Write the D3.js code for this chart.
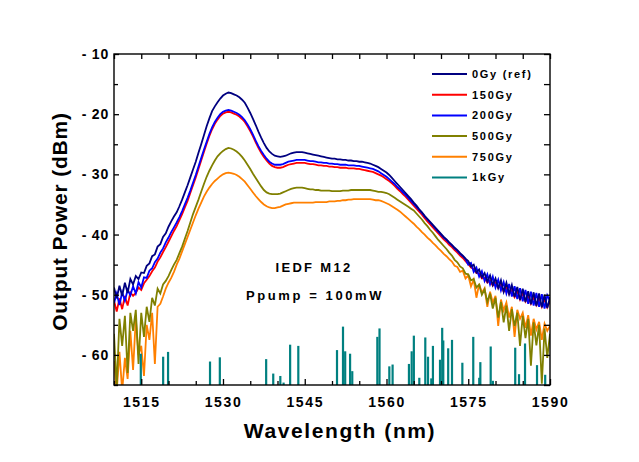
<!DOCTYPE html>
<html>
<head>
<meta charset="utf-8">
<script src="https://cdn.jsdelivr.net/npm/d3@7/dist/d3.min.js"></script>
<style>
  body { margin: 0; background: #fff; }
  svg text { font-family: 'Liberation Sans', Arial, sans-serif; font-weight: bold; fill: #000; }
</style>
</head>
<body>
<svg id="chart" width="639" height="462"></svg>
<script>
'use strict';

// spectra sampled every 0.5 nm from 1510 nm, output power in dBm
var wlStart = 1510;
var wlStep = 0.5;

var gy0 = [
  -48.8, -50.6, -48.5, -50.2, -48.0, -49.7, -47.4, -48.3, -46.9, -47.4,
  -46.3, -46.4, -45.2, -44.8, -43.6, -43.3, -42.0, -41.6, -40.4, -39.8,
  -38.7, -37.8, -37.0, -36.3, -35.3, -34.2, -33.0, -31.8, -30.5, -29.2,
  -27.9, -26.4, -25.0, -23.5, -22.0, -20.7, -19.5, -18.7, -18.0, -17.4,
  -16.9, -16.6, -16.4, -16.5, -16.7, -16.9, -17.2, -17.6, -18.1, -18.9,
  -19.8, -20.8, -21.8, -22.9, -23.9, -24.8, -25.6, -26.2, -26.6, -26.9,
  -27.0, -27.1, -27.0, -26.9, -26.7, -26.5, -26.4, -26.3, -26.3, -26.3,
  -26.4, -26.5, -26.6, -26.7, -26.8, -26.9, -27.0, -27.1, -27.2, -27.3,
  -27.4, -27.4, -27.5, -27.5, -27.6, -27.6, -27.7, -27.7, -27.8, -27.8,
  -27.9, -27.9, -28.0, -28.1, -28.2, -28.4, -28.6, -28.8, -29.1, -29.4,
  -29.7, -30.1, -30.6, -31.1, -31.6, -32.1, -32.6, -33.1, -33.6, -34.1,
  -34.7, -35.2, -35.8, -36.3, -36.9, -37.4, -37.9, -38.4, -38.9, -39.4,
  -39.9, -40.4, -40.8, -41.3, -41.7, -42.2, -42.6, -43.1, -43.5, -44.0,
  -44.4, -45.3, -45.0, -46.3, -45.8, -47.1, -46.4, -47.8, -46.8, -48.4,
  -47.3, -48.9, -47.6, -49.5, -48.0, -49.9, -48.4, -50.4, -48.7, -50.9,
  -49.0, -51.2, -49.4, -51.6, -49.6, -51.9, -49.8, -52.1, -50.0, -52.2,
  -50.4
];

var gy150 = [
  -51.0, -52.8, -50.6, -52.4, -50.2, -51.8, -49.6, -50.2, -49.7, -48.8,
  -49.2, -48.1, -47.5, -46.9, -46.1, -45.5, -44.5, -43.8, -42.9, -42.1,
  -41.2, -40.3, -39.4, -38.6, -37.6, -36.6, -35.5, -34.4, -33.1, -31.8,
  -30.5, -29.1, -27.7, -26.3, -24.9, -23.6, -22.5, -21.6, -20.9, -20.3,
  -19.9, -19.7, -19.6, -19.7, -19.9, -20.1, -20.4, -20.8, -21.3, -22.0,
  -22.8, -23.7, -24.7, -25.6, -26.4, -27.1, -27.7, -28.2, -28.6, -28.8,
  -28.9, -28.9, -28.8, -28.6, -28.4, -28.3, -28.2, -28.1, -28.1, -28.1,
  -28.1, -28.2, -28.3, -28.3, -28.4, -28.5, -28.5, -28.6, -28.6, -28.7,
  -28.7, -28.8, -28.8, -28.9, -28.9, -28.9, -29.0, -29.0, -29.0, -29.1,
  -29.1, -29.2, -29.3, -29.4, -29.5, -29.6, -29.8, -30.0, -30.2, -30.5,
  -30.8, -31.1, -31.5, -31.9, -32.4, -32.8, -33.3, -33.7, -34.2, -34.7,
  -35.2, -35.7, -36.2, -36.7, -37.3, -37.8, -38.3, -38.8, -39.3, -39.8,
  -40.3, -40.8, -41.2, -41.7, -42.1, -42.6, -43.0, -43.5, -43.9, -44.4,
  -44.9, -45.5, -45.7, -46.4, -46.5, -47.3, -47.2, -48.0, -47.6, -48.5,
  -48.0, -48.9, -48.3, -49.5, -48.8, -49.9, -49.2, -50.4, -49.5, -50.8,
  -49.8, -51.1, -50.2, -51.5, -50.4, -51.7, -50.6, -52.0, -50.7, -52.1,
  -51.1
];

var gy200 = [
  -51.4, -49.8, -51.7, -49.6, -51.0, -49.2, -50.1, -48.6, -49.8, -47.9,
  -48.8, -47.1, -47.2, -46.0, -45.6, -44.6, -44.0, -43.0, -42.3, -41.3,
  -40.5, -39.6, -38.8, -38.0, -37.1, -36.1, -35.0, -33.9, -32.7, -31.4,
  -30.1, -28.7, -27.3, -25.9, -24.6, -23.3, -22.2, -21.3, -20.6, -20.0,
  -19.6, -19.4, -19.3, -19.4, -19.6, -19.8, -20.1, -20.5, -21.0, -21.7,
  -22.5, -23.4, -24.4, -25.3, -26.1, -26.8, -27.4, -27.9, -28.2, -28.4,
  -28.4, -28.4, -28.3, -28.1, -27.9, -27.8, -27.7, -27.6, -27.6, -27.6,
  -27.6, -27.7, -27.8, -27.8, -27.9, -28.0, -28.0, -28.1, -28.1, -28.2,
  -28.2, -28.3, -28.3, -28.4, -28.4, -28.4, -28.5, -28.5, -28.5, -28.6,
  -28.6, -28.7, -28.8, -28.9, -29.0, -29.1, -29.3, -29.5, -29.8, -30.1,
  -30.4, -30.8, -31.2, -31.6, -32.1, -32.5, -33.0, -33.4, -33.9, -34.4,
  -34.9, -35.4, -35.9, -36.4, -37.0, -37.5, -38.0, -38.5, -39.0, -39.5,
  -40.0, -40.5, -40.9, -41.4, -41.8, -42.3, -42.7, -43.2, -43.6, -44.1,
  -45.0, -44.7, -46.2, -45.5, -47.0, -46.1, -47.7, -46.6, -48.3, -47.0,
  -48.8, -47.5, -49.3, -47.9, -49.8, -48.2, -50.3, -48.6, -50.7, -48.9,
  -51.1, -49.2, -51.5, -49.5, -51.8, -49.7, -52.0, -49.9, -52.3, -50.1,
  -51.0
];

var gy500 = [
  -56.5, -65.5, -54.0, -58.5, -53.5, -63.0, -53.0, -56.0, -52.5, -61.5,
  -53.0, -57.0, -52.0, -54.5, -50.5, -51.8, -49.0, -49.8, -48.3, -47.7,
  -46.9, -45.9, -45.0, -44.2, -43.1, -42.0, -40.7, -39.4, -38.0, -36.6,
  -35.4, -34.2, -32.9, -31.6, -30.4, -29.4, -28.5, -27.7, -27.0, -26.5,
  -26.1, -25.8, -25.6, -25.7, -25.9, -26.2, -26.6, -27.1, -27.7, -28.4,
  -29.1, -29.9, -30.6, -31.3, -32.0, -32.6, -33.0, -33.2, -33.3, -33.3,
  -33.3, -33.2, -33.0, -32.8, -32.6, -32.4, -32.3, -32.2, -32.2, -32.2,
  -32.3, -32.4, -32.5, -32.5, -32.6, -32.6, -32.7, -32.7, -32.7, -32.7,
  -32.8, -32.8, -32.8, -32.8, -32.7, -32.7, -32.7, -32.6, -32.6, -32.6,
  -32.6, -32.6, -32.6, -32.6, -32.6, -32.7, -32.8, -32.9, -32.9, -33.0,
  -33.1, -33.3, -33.6, -33.9, -34.2, -34.5, -34.8, -35.1, -35.4, -35.7,
  -36.0, -36.5, -37.0, -37.5, -38.1, -38.6, -39.2, -39.7, -40.3, -40.9,
  -41.4, -41.9, -42.4, -43.0, -43.5, -44.2, -44.6, -45.3, -45.6, -46.5,
  -46.6, -47.6, -47.4, -48.8, -48.3, -50.0, -49.1, -51.2, -49.8, -52.3,
  -50.5, -53.8, -51.2, -54.6, -51.8, -56.0, -52.4, -55.2, -53.0, -58.5,
  -53.5, -57.2, -54.0, -61.8, -54.6, -58.4, -55.0, -64.8, -55.6, -60.5,
  -56.5
];

var gy750 = [
  -61.0, -66.0, -59.5, -66.0, -60.5, -64.0, -56.0, -62.5, -54.0, -60.0,
  -58.5, -63.5, -55.0, -57.5, -53.0, -61.5, -52.0, -51.5, -50.3, -49.0,
  -48.0, -47.2, -46.2, -45.0, -44.0, -42.8, -41.6, -40.4, -39.2, -38.0,
  -36.8, -35.7, -34.7, -33.7, -32.9, -32.2, -31.6, -31.1, -30.7, -30.3,
  -30.0, -29.8, -29.7, -29.8, -29.9, -30.1, -30.4, -30.8, -31.2, -31.8,
  -32.4, -33.0, -33.6, -34.1, -34.6, -35.0, -35.3, -35.5, -35.6, -35.6,
  -35.5, -35.4, -35.2, -35.0, -34.9, -34.8, -34.7, -34.7, -34.7, -34.7,
  -34.7, -34.7, -34.7, -34.7, -34.6, -34.6, -34.6, -34.6, -34.6, -34.5,
  -34.5, -34.5, -34.4, -34.4, -34.3, -34.3, -34.2, -34.2, -34.1, -34.1,
  -34.1, -34.1, -34.1, -34.1, -34.1, -34.2, -34.3, -34.3, -34.4, -34.6,
  -34.8, -35.0, -35.3, -35.6, -35.9, -36.2, -36.6, -37.0, -37.4, -37.8,
  -38.2, -38.7, -39.1, -39.6, -40.0, -40.5, -40.9, -41.4, -41.8, -42.3,
  -42.7, -43.2, -43.6, -44.1, -44.5, -45.2, -45.4, -46.2, -46.0, -47.3,
  -46.8, -48.6, -47.5, -50.5, -48.2, -49.7, -48.9, -52.0, -49.5, -51.3,
  -50.2, -55.2, -50.8, -52.6, -51.3, -53.8, -52.0, -57.0, -52.5, -54.0,
  -53.0, -55.5, -53.4, -56.8, -54.0, -55.8, -54.5, -57.5, -54.8, -56.0,
  -55.2
];

// 1 kGy trace sits below the axis floor, only its spikes show
var gy1kWl = [1514.9, 1519.0, 1519.9, 1527.6, 1529.4, 1537.9, 1539.2, 1540.5, 1541.1, 1542.3,
  1543.8, 1550.9, 1552.0, 1552.4, 1553.3, 1553.7, 1558.3, 1558.7, 1560.5, 1561.1,
  1564.1, 1564.6, 1565.0, 1566.0, 1567.1, 1567.6, 1568.2, 1568.5, 1569.8, 1570.2,
  1570.4, 1571.3, 1572.0, 1573.9, 1575.9, 1577.0, 1577.2, 1579.1, 1579.5, 1583.6,
  1584.3, 1585.4, 1587.6, 1589.1];
var gy1kTop = [-59.8, -60.3, -59.5, -61.1, -60.4, -60.7, -63.1, -63.5, -64.6, -58.3,
  -58.5, -59.2, -55.3, -59.4, -59.8, -62.7, -57.0, -55.6, -61.9, -61.6,
  -61.5, -59.4, -56.8, -63.8, -57.1, -60.3, -63.9, -58.5, -60.8, -55.5,
  -57.6, -58.9, -57.5, -61.3, -57.0, -63.8, -61.2, -58.6, -64.3, -58.8,
  -63.2, -58.1, -61.7, -63.3];

var seriesNames = ['0Gy (ref)', '150Gy', '200Gy', '500Gy', '750Gy', '1kGy'];
var seriesColors = ['#000080', '#ff0000', '#0000ff', '#808000', '#ff8000', '#008080'];

var xMajorTicks = [1515, 1530, 1545, 1560, 1575, 1590];
var xMinorTicks = [1510, 1520, 1525, 1535, 1540, 1550, 1555, 1565, 1570, 1580, 1585];
var yMajorTicks = [-10, -20, -30, -40, -50, -60];
var yMinorTicks = [-15, -25, -35, -45, -55, -65];

// plot frame
var margins = { top: 54, right: 89, bottom: 77, left: 114 };
var width = 639;
var height = 462;
var chartW = width - margins.left - margins.right;
var chartH = height - margins.top - margins.bottom;

var svg = d3.select('#chart');
var x = d3.scaleLinear().domain([1510, 1590]).range([0, chartW]);
var y = d3.scaleLinear().domain([-65, -10]).range([chartH, 0]);

var plot = svg.append('g')
  .attr('transform', 'translate(' + margins.left + ',' + margins.top + ')');

plot.append('clipPath').attr('id', 'clip')
  .append('rect').attr('width', chartW).attr('height', chartH);

// spectra, drawn back to front
var traces = [
  { values: gy750, color: seriesColors[4] },
  { values: gy500, color: seriesColors[3] },
  { values: gy150, color: seriesColors[1] },
  { values: gy200, color: seriesColors[2] },
  { values: gy0, color: seriesColors[0] }
];

var line = d3.line()
  .x(function (d, i) { return x(wlStart + i * wlStep); })
  .y(function (d) { return y(d); });

var curves = plot.append('g').attr('clip-path', 'url(#clip)');
curves.selectAll('path.trace').data(traces).enter().append('path')
  .attr('class', 'trace')
  .attr('d', function (d) { return line(d.values); })
  .attr('fill', 'none')
  .attr('stroke', function (d) { return d.color; })
  .attr('stroke-width', 1.8)
  .attr('stroke-linejoin', 'miter');

// 1 kGy spikes
curves.selectAll('rect.spike').data(gy1kWl).enter().append('rect')
  .attr('class', 'spike')
  .attr('x', function (d) { return x(d) - 1; })
  .attr('width', 2.2)
  .attr('y', function (d, i) { return y(gy1kTop[i]); })
  .attr('height', function (d, i) { return chartH - y(gy1kTop[i]); })
  .attr('fill', seriesColors[5]);

// axes: inward ticks on all four sides
function styleAxis(g) {
  g.select('.domain').remove();
  g.selectAll('line').attr('stroke', '#000').attr('stroke-width', 1.3);
  g.selectAll('text').style('font-size', '14px').style('letter-spacing', '1.6px');
}

// y labels drawn as "- 10" like the original
function dashFormat(d) {
  return '- ' + Math.abs(d);
}

plot.append('g').attr('transform', 'translate(0,' + chartH + ')')
  .call(d3.axisBottom(x).tickValues(xMinorTicks).tickSize(-4).tickFormat(''))
  .call(styleAxis);
plot.append('g').attr('transform', 'translate(0,' + chartH + ')')
  .call(d3.axisBottom(x).tickValues(xMajorTicks).tickSize(-6).tickPadding(12).tickFormat(d3.format('d')))
  .call(styleAxis);
plot.append('g')
  .call(d3.axisTop(x).tickValues(xMinorTicks.concat(xMajorTicks)).tickSize(-5).tickFormat(''))
  .call(styleAxis);

plot.append('g')
  .call(d3.axisLeft(y).tickValues(yMinorTicks).tickSize(-4).tickFormat(''))
  .call(styleAxis);
plot.append('g')
  .call(d3.axisLeft(y).tickValues(yMajorTicks).tickSize(-5).tickPadding(5).tickFormat(dashFormat))
  .call(styleAxis)
  .call(function (g) { g.selectAll('text').style('letter-spacing', '0.8px'); });
plot.append('g').attr('transform', 'translate(' + chartW + ',0)')
  .call(d3.axisRight(y).tickValues(yMinorTicks.concat(yMajorTicks)).tickSize(-6).tickFormat(''))
  .call(styleAxis);

plot.append('rect')
  .attr('width', chartW).attr('height', chartH)
  .attr('fill', 'none').attr('stroke', '#000').attr('stroke-width', 1.4);

// axis titles
svg.append('text')
  .attr('x', margins.left + chartW / 2 + 8).attr('y', 438)
  .attr('text-anchor', 'middle')
  .style('font-size', '21px').style('letter-spacing', '1.6px')
  .text('Wavelength (nm)');

svg.append('text')
  .attr('transform', 'translate(67,' + (margins.top + chartH / 2 + 2) + ') rotate(-90)')
  .attr('text-anchor', 'middle')
  .style('font-size', '21px').style('letter-spacing', '0.8px')
  .text('Output Power (dBm)');

// annotation
svg.append('text')
  .attr('x', 314).attr('y', 272)
  .attr('text-anchor', 'middle')
  .style('font-size', '13px').style('letter-spacing', '2.3px')
  .text('IEDF M12');
svg.append('text')
  .attr('x', 315).attr('y', 300)
  .attr('text-anchor', 'middle')
  .style('font-size', '13px').style('letter-spacing', '2.6px')
  .text('Ppump = 100mW');

// legend
var legend = svg.append('g').attr('transform', 'translate(432,74)');
var item = legend.selectAll('g.item').data(seriesNames).enter().append('g')
  .attr('class', 'item')
  .attr('transform', function (d, i) { return 'translate(0,' + (i * 20.7) + ')'; });
item.append('line')
  .attr('x1', 0).attr('x2', 35)
  .attr('stroke', function (d, i) { return seriesColors[i]; })
  .attr('stroke-width', 2);
item.append('text')
  .attr('x', 40).attr('dy', '0.36em')
  .style('font-size', '11px').style('letter-spacing', '1.7px')
  .text(function (d) { return d; });
</script>
</body>
</html>
